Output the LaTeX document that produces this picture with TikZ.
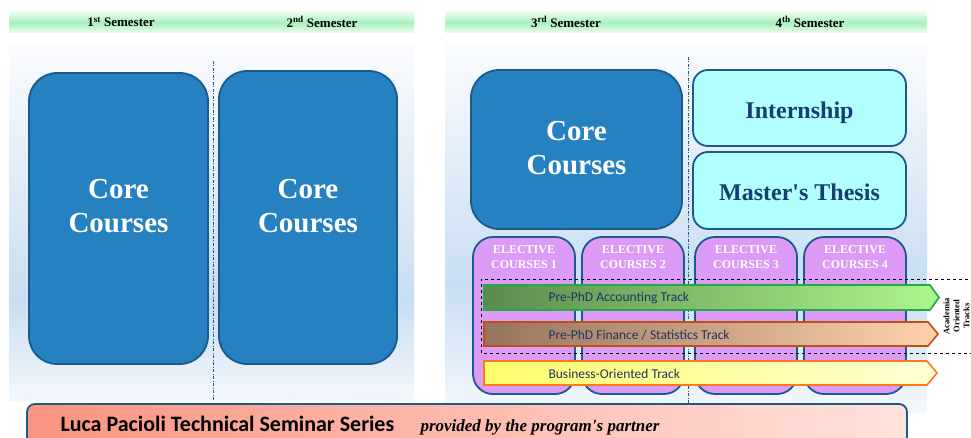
\documentclass[tikz,border=0pt]{standalone}
\usepackage{fontspec}
\setmainfont{Liberation Serif}
\newfontfamily\plainserif{Liberation Serif}[Ligatures=TeXOff]
\newfontfamily\calib{Carlito}
\definecolor{coreblue}{RGB}{37,129,192}
\definecolor{edgeblue}{RGB}{28,90,140}
\definecolor{cyanfill}{RGB}{178,255,255}
\definecolor{navy}{RGB}{22,62,110}
\definecolor{elviolet}{RGB}{221,155,248}
\definecolor{trackblue}{RGB}{30,52,100}
\definecolor{hdrgreen}{RGB}{168,242,188}
\definecolor{hdrpale}{RGB}{236,252,240}
\definecolor{panelw}{RGB}{251,252,254}
\definecolor{panelb}{RGB}{200,222,242}
\definecolor{panelw2}{RGB}{244,248,252}
\definecolor{grL}{RGB}{92,140,78}
\definecolor{grR}{RGB}{172,246,140}
\definecolor{grE}{RGB}{34,170,72}
\definecolor{brL}{RGB}{150,116,92}
\definecolor{brR}{RGB}{255,210,172}
\definecolor{brE}{RGB}{190,82,20}
\definecolor{yeL}{RGB}{255,255,108}
\definecolor{yeR}{RGB}{255,255,214}
\definecolor{yeE}{RGB}{255,120,30}
\definecolor{semL}{RGB}{250,148,128}
\definecolor{semR}{RGB}{255,226,220}
\tikzset{
  semtxt/.style={font=\bfseries\fontsize{13}{15}\selectfont, text=black},
  corebox/.style={draw=edgeblue, fill=coreblue, line width=1.8pt, rounded corners=28pt},
  coretxt/.style={align=center, text=white, font=\bfseries\fontsize{29}{34}\selectfont},
  cyanbox/.style={draw=edgeblue, fill=cyanfill, line width=1.8pt, rounded corners=15pt},
  cyantxt/.style={text=navy, font=\plainserif\bfseries\fontsize{24}{28}\selectfont},
  elbox/.style={draw=edgeblue, fill=elviolet, line width=1.8pt, rounded corners=20pt, minimum width=102pt, minimum height=157pt},
  eltxt/.style={align=center, text=white, font=\bfseries\fontsize{12}{14.5}\selectfont},
  divider/.style={draw=edgeblue, line width=0.9pt, dash pattern=on 3pt off 1.5pt on 1pt off 1.5pt},
  tracktxt/.style={anchor=west, text=trackblue, font=\calib\fontsize{13.5}{15}\selectfont},
}
\begin{document}
\begin{tikzpicture}[x=1pt,y=-1pt]
\useasboundingbox (0,0) rectangle (971,438);
\fill[white] (0,0) rectangle (971,438);
% header bars
\shade[top color=hdrpale, bottom color=hdrpale, middle color=hdrgreen] (9,12) rectangle (414,33);
\shade[top color=hdrpale, bottom color=hdrpale, middle color=hdrgreen] (445,12) rectangle (927,33);
\node[semtxt] (s1) at (121,22) {1\textsuperscript{st} Semester};
\node[semtxt] (s2) at (322,22) {2\textsuperscript{nd} Semester};
\node[semtxt] (s3) at (566,22) {3\textsuperscript{rd} Semester};
\node[semtxt] (s4) at (810,22) {4\textsuperscript{th} Semester};
% panels
\shade[top color=panelw, bottom color=panelb] (9,44) rectangle (414,300);
\shade[top color=panelb, bottom color=panelw2] (9,299.5) rectangle (414,400);
\shade[top color=panelw, bottom color=panelb] (445,44) rectangle (927,285);
\shade[top color=panelb, bottom color=panelw2] (445,284.5) rectangle (927,412);
% dividers
\coordinate (d1a) at (213,61); \coordinate (d1b) at (213,400);
\coordinate (d2a) at (688,57); \coordinate (d2b) at (688,405);
\draw[divider] (d1a) -- (d1b);
\draw[divider] (d2a) -- (d2b);
% core boxes
\node[corebox, minimum width=179pt, minimum height=291pt] (c1) at (118.5,218.5) {};
\node[corebox, minimum width=178pt, minimum height=293pt] (c2) at (308,217.5) {};
\node[corebox, minimum width=211pt, minimum height=159pt] (c3) at (576.5,149.5) {};
\node[coretxt] (c1t) at (118.5,206) {Core\\Courses};
\node[coretxt] (c2t) at (308,206) {Core\\Courses};
\node[coretxt] (c3t) at (576.5,148) {Core\\Courses};
% internship / thesis
\node[cyanbox, minimum width=213pt, minimum height=76pt] (intern) at (799.5,108) {};
\node[cyanbox, minimum width=213pt, minimum height=77pt] (thesis) at (799.5,190.5) {};
\node[cyantxt] (internt) at (799.5,112.5) {Internship};
\node[cyantxt] (thesist) at (799.5,192) {Master's Thesis};
% electives
\node[elbox] (e1) at (524,315.5) {};
\node[elbox] (e2) at (633,315.5) {};
\node[elbox] (e3) at (746,315.5) {};
\node[elbox] (e4) at (855,315.5) {};
\node[eltxt] (e1t) at (524,257) {ELECTIVE\\COURSES 1};
\node[eltxt] (e2t) at (633,257) {ELECTIVE\\COURSES 2};
\node[eltxt] (e3t) at (746,257) {ELECTIVE\\COURSES 3};
\node[eltxt] (e4t) at (855,257) {ELECTIVE\\COURSES 4};
% academia dashed frame
\coordinate (fa) at (980,279); \coordinate (fb) at (481,279);
\coordinate (fc) at (481,353); \coordinate (fd) at (980,353);
\draw[black, dashed, line width=0.9pt] (fa) -- (fb) -- (fc) -- (fd);
% tracks
\shade[left color=grL, right color=grR] (484,285) -- (930,285) -- (939,297.5) -- (930,310) -- (484,310) -- cycle;
\draw[grE, line width=1.6pt, line join=miter] (484,285) -- (930,285) -- (939,297.5) -- (930,310) -- (484,310) -- cycle;
\shade[left color=brL, right color=brR] (484,322) -- (928,322) -- (938,334) -- (928,346) -- (484,346) -- cycle;
\draw[brE, line width=1.6pt] (484,322) -- (928,322) -- (938,334) -- (928,346) -- (484,346) -- cycle;
\shade[left color=yeL, right color=yeR] (484,361) -- (927,361) -- (937,373) -- (927,385) -- (484,385) -- cycle;
\draw[yeE, line width=1.6pt] (484,361) -- (927,361) -- (937,373) -- (927,385) -- (484,385) -- cycle;
\node[tracktxt] (t1) at (545,298) {Pre-PhD Accounting Track};
\node[tracktxt] (t2) at (545,335) {Pre-PhD Finance / Statistics Track};
\node[tracktxt] (t3) at (545,374) {Business-Oriented Track};
\node[rotate=90, align=center, inner sep=0pt, font=\bfseries\fontsize{8.5}{10}\selectfont] (acad) at (956.5,316) {Academia\\Oriented\\Tracks};
% seminar bar
\shade[left color=semL, right color=semR, rounded corners=8pt] (27,404) rectangle (907,452);
\draw[edgeblue, line width=1.8pt, rounded corners=8pt] (27,404) rectangle (907,452);
\node[anchor=base west, font=\calib\bfseries\fontsize{22}{25}\selectfont] (sem) at (57,431) {Luca Pacioli Technical Seminar Series};
\node[anchor=base west, font=\plainserif\bfseries\itshape\fontsize{17}{20}\selectfont] (prov) at (417,431) {provided by the program's partner};
\end{tikzpicture}
\end{document}
